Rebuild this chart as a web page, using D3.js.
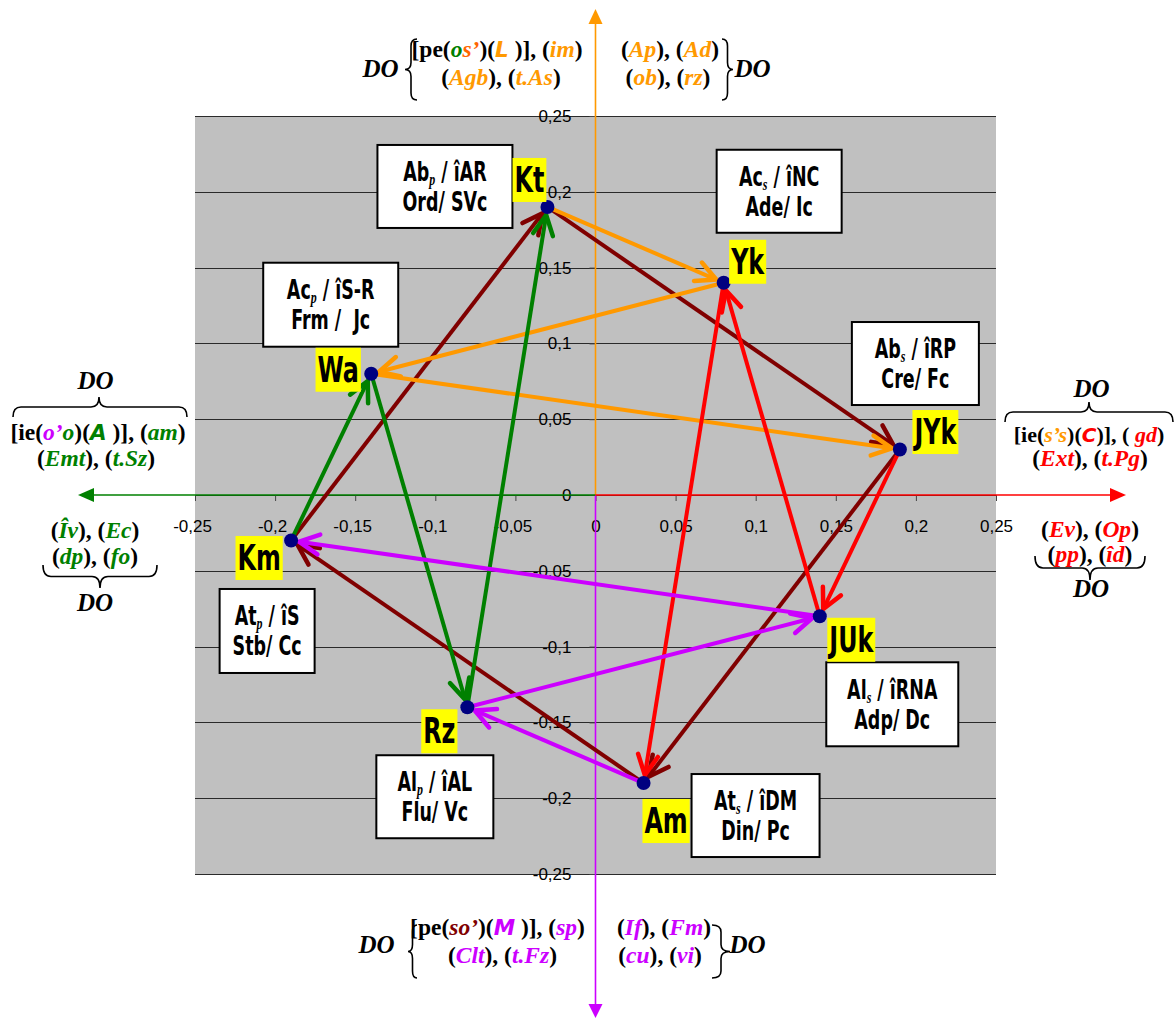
<!DOCTYPE html>
<html><head><meta charset="utf-8">
<script src="https://cdn.jsdelivr.net/npm/d3@7"></script>
<style>
html,body{margin:0;padding:0;background:#fff;}
svg{display:block;}
text{white-space:pre;}
</style></head><body>
<svg id="chart" width="1174" height="1019"></svg>
<script>
// ---------- DATA ----------
const pointNames = ["Kt","Yk","JYk","JUk","Am","Rz","Km","Wa"];
const pointX = [-0.03, 0.08, 0.19, 0.14, 0.03, -0.08, -0.19, -0.14];
const pointY = [0.19, 0.14, 0.03, -0.08, -0.19, -0.14, -0.03, 0.08];
const boxLine1Main = ["Ab","Ac","Ab","Al","At","Al","At","Ac"];
const boxLine1Sub  = ["p","s","s","s","s","p","p","p"];
const boxLine1Rest = [" / îAR"," / îNC"," / îRP"," / îRNA"," / îDM"," / îAL"," / îS"," / îS-R"];
const boxLine2     = ["Ord/ SVc","Ade/ Ic","Cre/ Fc","Adp/ Dc","Din/ Pc","Flu/ Vc","Stb/ Cc","Frm /  Jc"];
const xTicks = [-0.25,-0.2,-0.15,-0.1,-0.05,0,0.05,0.1,0.15,0.2,0.25];
const xTickLabels = ["-0,25","-0,2","-0,15","-0,1","-0,05","0","0,05","0,1","0,15","0,2","0,25"];
const yTicks = [-0.25,-0.2,-0.15,-0.1,-0.05,0,0.05,0.1,0.15,0.2,0.25];
const yTickLabels = ["-0,25","-0,2","-0,15","-0,1","-0,05","0","0,05","0,1","0,15","0,2","0,25"];
const pathMaroon  = ["Km","Kt","JYk","Am","Km"];
const pathOrange  = ["Kt","Yk","Wa","JYk"];
const pathGreen   = ["Km","Wa","Rz","Kt"];
const pathRed     = ["JYk","JUk","Yk","Am"];
const pathMagenta = ["Am","Rz","JUk","Km"];

// ---------- LAYOUT / STYLE ----------
const C = {k:"#000", o:"#FF9900", or:"#FF6600", g:"#008000", r:"#FF0000", m:"#CC00FF", mr:"#800000"};
const arrowSeries = [
  {path: pathMaroon, color: C.mr},
  {path: pathOrange, color: C.o},
  {path: pathGreen, color: C.g},
  {path: pathRed, color: C.r},
  {path: pathMagenta, color: C.m}
];
const labelOffset = [[-18,-27],[24,-21],[35.5,-17.5],[31.5,23.5],[22.5,38],[-28,24],[-32,17.5],[-33,-4]];
const boxLayout = [[-102.5,-20.5,135,83],[55.5,-91.5,125,83],[15.5,-86,127,83],[72.5,88,132,84],
                   [112,32.5,128,83],[-32.5,89.5,117,83],[-24,90.5,95,84],[-40.5,-69,135,84]];

const BOXF = "'Liberation Sans Narrow','Arial Narrow','DejaVu Sans Condensed',sans-serif";
const SERIF = "'Liberation Serif','Times New Roman',serif";
const SANS = "'Liberation Sans',Arial,sans-serif";

const svg = d3.select("#chart");
const x = d3.scaleLinear().domain([-0.25,0.25]).range([195,996]);
const y = d3.scaleLinear().domain([-0.25,0.25]).range([874,116]);

svg.append("rect").attr("x",x(-0.25)).attr("y",y(0.25))
  .attr("width",x(0.25)-x(-0.25)).attr("height",y(-0.25)-y(0.25)).attr("fill","#c0c0c0");

svg.append("g").selectAll("line").data(yTicks).join("line")
  .attr("x1",x(-0.25)).attr("x2",x(0.25))
  .attr("y1",d=>Math.round(y(d))+0.5).attr("y2",d=>Math.round(y(d))+0.5)
  .attr("stroke","#2a2a2a").attr("stroke-width",1);

const gx = svg.append("g").attr("transform",`translate(0,${y(0)})`)
  .call(d3.axisBottom(x).tickValues(xTicks).tickFormat((d,i)=>xTickLabels[i]).tickSize(6).tickPadding(19));
const gy = svg.append("g").attr("transform",`translate(${x(0)},0)`)
  .call(d3.axisLeft(y).tickValues(yTicks).tickFormat((d,i)=>yTickLabels[i]).tickSize(6).tickPadding(18));
[gx,gy].forEach(g=>{
  g.select(".domain").remove();
  g.attr("font-family",SANS).attr("font-size",17);
  g.selectAll(".tick line").attr("stroke","#444");
  g.selectAll(".tick text").attr("fill","#000");
});
gx.selectAll(".tick text").attr("dx",d=>d<0?-3:0);

const x0 = x(0), y0 = y(0);
const axisG = svg.append("g");
axisG.append("line").attr("x1",x0).attr("x2",x0).attr("y1",y0).attr("y2",22).attr("stroke",C.o).attr("stroke-width",1.6);
axisG.append("line").attr("x1",x0).attr("x2",x0).attr("y1",y0).attr("y2",1006).attr("stroke",C.m).attr("stroke-width",1.6);
axisG.append("line").attr("x1",x0).attr("x2",92).attr("y1",y0).attr("y2",y0).attr("stroke",C.g).attr("stroke-width",1.6);
axisG.append("line").attr("x1",x0).attr("x2",1111).attr("y1",y0).attr("y2",y0).attr("stroke",C.r).attr("stroke-width",1.6);
axisG.append("path").attr("d",`M${x0},9 L${x0-7},24 L${x0+7},24 Z`).attr("fill",C.o);
axisG.append("path").attr("d",`M${x0},1018 L${x0-7},1004 L${x0+7},1004 Z`).attr("fill",C.m);
axisG.append("path").attr("d",`M78,${y0} L94,${y0-7} L94,${y0+7} Z`).attr("fill",C.g);
axisG.append("path").attr("d",`M1126,${y0} L1110,${y0-7} L1110,${y0+7} Z`).attr("fill",C.r);

// ---------- info boxes ----------
const BFS = 26;
const probe = svg.append("text").attr("font-family",BOXF).attr("font-weight","bold").attr("font-size",BFS).text("Ord/ SVc");
const boxScale = 85/probe.node().getComputedTextLength();
probe.remove();

pointNames.forEach((n,i)=>{
  const px = x(pointX[i]), py = y(pointY[i]);
  const [dx,dy,w,h] = boxLayout[i];
  const cx = px+dx, cy = py+dy;
  const g = svg.append("g").attr("transform",`translate(${cx},${cy})`);
  g.append("rect").attr("x",-w/2).attr("y",-h/2).attr("width",w).attr("height",h)
    .attr("fill","#fff").attr("stroke","#000").attr("stroke-width",2);
  const t1 = g.append("text").attr("transform",`translate(0,-5.5) scale(${boxScale},1)`)
    .attr("text-anchor","middle").attr("font-family",BOXF).attr("font-weight","bold").attr("font-size",BFS).attr("fill","#000");
  t1.append("tspan").text(boxLine1Main[i]);
  t1.append("tspan").attr("dy",4).attr("font-size",16).attr("font-style","italic").attr("font-family",SERIF).text(boxLine1Sub[i]);
  t1.append("tspan").attr("dy",-4).text(boxLine1Rest[i]);
  g.append("text").attr("transform",`translate(0,24.5) scale(${boxScale},1)`)
    .attr("text-anchor","middle").attr("font-family",BOXF).attr("font-weight","bold").attr("font-size",BFS).attr("fill","#000")
    .text(boxLine2[i]);
});

// ---------- arrows ----------
const idx = n => pointNames.indexOf(n);
const segs = [];
arrowSeries.forEach(s=>{
  d3.pairs(s.path).forEach(([a,b])=>segs.push({a:idx(a),b:idx(b),color:s.color}));
});
const arrowG = svg.append("g");
segs.forEach(s=>{
  const ax = x(pointX[s.a]), ay = y(pointY[s.a]);
  const bx = x(pointX[s.b]), by = y(pointY[s.b]);
  const len = Math.hypot(bx-ax,by-ay);
  const ux = (bx-ax)/len, uy = (by-ay)/len;
  const nx = -uy, ny = ux;
  const tx = bx-ux*8, ty = by-uy*8;
  const L = 20, W = 10;
  arrowG.append("line").attr("x1",ax).attr("y1",ay).attr("x2",tx-ux*2).attr("y2",ty-uy*2)
    .attr("stroke",s.color).attr("stroke-width",4);
  arrowG.append("path")
    .attr("d",`M${tx-ux*L+nx*W},${ty-uy*L+ny*W} L${tx},${ty} L${tx-ux*L-nx*W},${ty-uy*L-ny*W}`)
    .attr("fill","none").attr("stroke",s.color).attr("stroke-width",4.5)
    .attr("stroke-linejoin","miter").attr("stroke-miterlimit",3).attr("stroke-linecap","round");
});

svg.append("g").selectAll("circle").data(pointNames).join("circle")
  .attr("cx",(d,i)=>x(pointX[i])).attr("cy",(d,i)=>y(pointY[i])).attr("r",7).attr("fill","#000080");

// ---------- point labels ----------
const probe2 = svg.append("text").attr("font-family",BOXF).attr("font-weight","bold").attr("font-size",36).text("JUk");
const labScale = 44/probe2.node().getComputedTextLength();
probe2.remove();
pointNames.forEach((n,i)=>{
  const cx = x(pointX[i])+labelOffset[i][0], cy = y(pointY[i])+labelOffset[i][1];
  const g = svg.append("g").attr("transform",`translate(${cx},${cy})`);
  const t = g.append("text").attr("transform",`translate(0,12) scale(${labScale},1)`)
    .attr("text-anchor","middle").attr("font-family",BOXF).attr("font-weight","bold").attr("font-size",36).attr("fill","#000").text(n);
  const w = t.node().getComputedTextLength()*labScale + 4;
  g.insert("rect","text").attr("x",-w/2).attr("y",-22).attr("width",w).attr("height",44).attr("fill","#FFFF00");
});

// ---------- annotations ----------
const AFS = 23.5;
function rich(cx, by, segsArr, size){
  const fs = size||AFS;
  const t = svg.append("text").attr("x",cx).attr("y",by).attr("text-anchor","middle")
    .attr("font-family",SERIF).attr("font-weight","bold").attr("font-size",fs);
  segsArr.forEach(([s,c,it])=>{
    const ts = t.append("tspan").text(s).attr("fill",C[c||"k"]);
    if(it===1) ts.attr("font-style","italic");
    if(it===2) ts.attr("font-style","italic").attr("font-family","'DejaVu Sans',sans-serif").attr("font-size",fs-2);
  });
  return t;
}
function word(a, b, col){
  return [["(","k"],[a,col,1],["), (","k"],[b,col,1],[")","k"]];
}
function DO(cx, by){ rich(cx, by, [["DO","k",1]], 25); }

DO(380.5,77);
rich(497,57,[["[pe(","k"],["o","g",1],["s’","or",1],[")(","k"],["L","o",2],[" )], (","k"],["im","o",1],[")","k"]]);
rich(501,85,word("Agb","t.As","o"));
rich(670,57,word("Ap","Ad","o"));
rich(668,85,word("ob","rz","o"));
DO(752.5,77);

DO(95.5,389);
rich(98,440,[["[ie(","k"],["o’","m",1],["o","g",1],[")(","k"],["A","g",2],[" )], (","k"],["am","g",1],[")","k"]]);
rich(96,466,word("Emt","t.Sz","g"));
rich(95,538,word("Îv","Ec","g"));
rich(95,564,word("dp","fo","g"));
DO(95,611);

DO(1091.5,397);
rich(1089,442,[["[ie(","k"],["s’s","o",1],[")(","k"],["C","r",2],[")], ( ","k"],["gd","r",1],[")","k"]], 22);
rich(1090,466,word("Ext","t.Pg","r"));
rich(1090,537,word("Ev","Op","r"));
rich(1090,562,word("pp","îd","r"));
DO(1091,597);

DO(376.5,953);
rich(497.5,935,[["[pe(","k"],["so’","mr",1],[")(","k"],["M","m",2],[" )], (","k"],["sp","m",1],[")","k"]]);
rich(502.5,963,word("Clt","t.Fz","m"));
rich(664,935,word("If","Fm","m"));
rich(660,963,word("cu","vi","m"));
DO(747.5,953);

function vBrace(xt, xe, y1, y2){
  const ym=(y1+y2)/2, xm=(xt+xe)/2, r=7;
  return `M${xe},${y1} Q${xm},${y1} ${xm},${y1+r} L${xm},${ym-r} Q${xm},${ym} ${xt},${ym} Q${xm},${ym} ${xm},${ym+r} L${xm},${y2-r} Q${xm},${y2} ${xe},${y2}`;
}
function hBrace(yt, ye, x1, x2, xc){
  const ym=(yt+ye)/2, r=8;
  return `M${x1},${ye} Q${x1},${ym} ${x1+r},${ym} L${xc-r},${ym} Q${xc},${ym} ${xc},${yt} Q${xc},${ym} ${xc+r},${ym} L${x2-r},${ym} Q${x2},${ym} ${x2},${ye}`;
}
const braces = [vBrace(405,417,39,100), vBrace(733,722,39,100), vBrace(408,417,925,978), vBrace(730,712,925,978),
  hBrace(397,417,13,187,99), hBrace(588,565,43,157,100), hBrace(402,422,1005,1173,1089), hBrace(580,556,1035,1145,1090)];
svg.append("g").selectAll("path").data(braces).join("path").attr("d",d=>d)
  .attr("fill","none").attr("stroke","#000").attr("stroke-width",1.6);
</script>
</body></html>
